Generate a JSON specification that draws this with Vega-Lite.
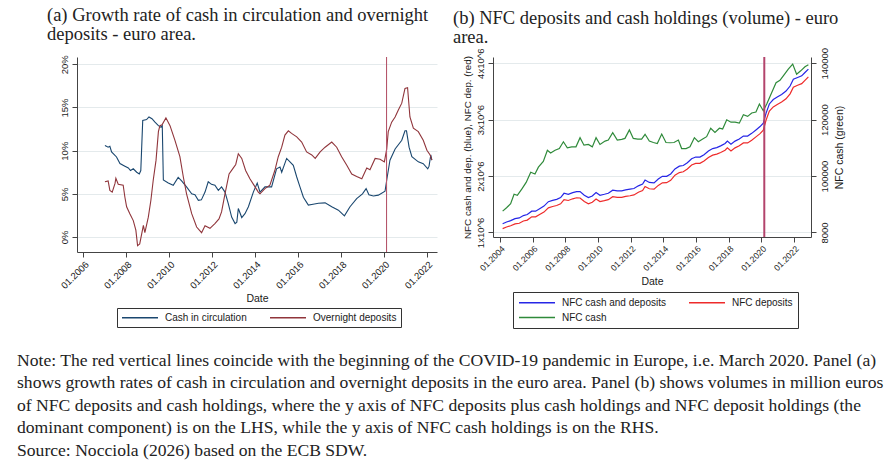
{
  "$schema": "https://vega.github.io/schema/vega-lite/v6.json",
  "background": "white",
  "padding": {"left": 17, "top": 6, "right": 5, "bottom": 2},
  "bounds": "flush",
  "resolve": {"scale": {"color": "independent"}, "legend": {"color": "independent"}},
  "config": {
    "font": "Liberation Sans",
    "view": {"stroke": null, "fill": "white"},
    "axis": {
      "labelFont": "Liberation Sans", "labelFontSize": 9.5, "labelColor": "#1a1a1a",
      "titleFont": "Liberation Sans", "titleFontSize": 10.5, "titleFontWeight": "normal", "titleColor": "#1a1a1a",
      "domainColor": "#444", "tickColor": "#444", "gridColor": "#E4EAEC", "tickSize": 5,
      "labelFlush": false, "labelOverlap": false
    },
    "axisBottom": {"labelOverlap": false},
    "axisX": {"labelOverlap": false},
    "legend": {
      "labelFont": "Liberation Sans", "labelFontSize": 10, "labelColor": "#1a1a1a",
      "fillColor": "white", "strokeColor": "#333", "padding": 4,
      "symbolType": "M-1,0H7", "symbolSize": 81, "symbolStrokeWidth": 1.3, "labelOffset": 33, "columnPadding": 20
    }
  },
  "datasets": {
    "a": [
      {"t": 2007.01, "v": 10.6, "s": "Cash in circulation"},
      {"t": 2007.16, "v": 10.4, "s": "Cash in circulation"},
      {"t": 2007.24, "v": 10.5, "s": "Cash in circulation"},
      {"t": 2007.32, "v": 9.85, "s": "Cash in circulation"},
      {"t": 2007.55, "v": 9.27, "s": "Cash in circulation"},
      {"t": 2007.71, "v": 8.5, "s": "Cash in circulation"},
      {"t": 2007.94, "v": 8.2, "s": "Cash in circulation"},
      {"t": 2008.1, "v": 8.0, "s": "Cash in circulation"},
      {"t": 2008.2, "v": 7.7, "s": "Cash in circulation"},
      {"t": 2008.33, "v": 7.9, "s": "Cash in circulation"},
      {"t": 2008.49, "v": 7.5, "s": "Cash in circulation"},
      {"t": 2008.61, "v": 7.3, "s": "Cash in circulation"},
      {"t": 2008.68, "v": 7.7, "s": "Cash in circulation"},
      {"t": 2008.77, "v": 13.5, "s": "Cash in circulation"},
      {"t": 2008.95, "v": 13.6, "s": "Cash in circulation"},
      {"t": 2009.06, "v": 13.9, "s": "Cash in circulation"},
      {"t": 2009.2, "v": 13.7, "s": "Cash in circulation"},
      {"t": 2009.34, "v": 13.3, "s": "Cash in circulation"},
      {"t": 2009.5, "v": 12.9, "s": "Cash in circulation"},
      {"t": 2009.62, "v": 12.7, "s": "Cash in circulation"},
      {"t": 2009.68, "v": 12.9, "s": "Cash in circulation"},
      {"t": 2009.73, "v": 6.6, "s": "Cash in circulation"},
      {"t": 2009.96, "v": 6.25, "s": "Cash in circulation"},
      {"t": 2010.19, "v": 6.0, "s": "Cash in circulation"},
      {"t": 2010.42, "v": 6.9, "s": "Cash in circulation"},
      {"t": 2010.58, "v": 6.5, "s": "Cash in circulation"},
      {"t": 2010.81, "v": 5.8, "s": "Cash in circulation"},
      {"t": 2011.05, "v": 5.0, "s": "Cash in circulation"},
      {"t": 2011.2, "v": 4.9, "s": "Cash in circulation"},
      {"t": 2011.36, "v": 4.25, "s": "Cash in circulation"},
      {"t": 2011.5, "v": 4.3, "s": "Cash in circulation"},
      {"t": 2011.67, "v": 5.2, "s": "Cash in circulation"},
      {"t": 2011.82, "v": 6.4, "s": "Cash in circulation"},
      {"t": 2011.97, "v": 6.1, "s": "Cash in circulation"},
      {"t": 2012.13, "v": 6.0, "s": "Cash in circulation"},
      {"t": 2012.29, "v": 5.4, "s": "Cash in circulation"},
      {"t": 2012.44, "v": 5.8, "s": "Cash in circulation"},
      {"t": 2012.6, "v": 5.2, "s": "Cash in circulation"},
      {"t": 2012.75, "v": 3.9, "s": "Cash in circulation"},
      {"t": 2012.91, "v": 2.3, "s": "Cash in circulation"},
      {"t": 2013.07, "v": 1.55, "s": "Cash in circulation"},
      {"t": 2013.15, "v": 1.7, "s": "Cash in circulation"},
      {"t": 2013.22, "v": 3.3, "s": "Cash in circulation"},
      {"t": 2013.38, "v": 2.25, "s": "Cash in circulation"},
      {"t": 2013.53, "v": 2.7, "s": "Cash in circulation"},
      {"t": 2013.69, "v": 3.5, "s": "Cash in circulation"},
      {"t": 2013.92, "v": 5.2, "s": "Cash in circulation"},
      {"t": 2014.1, "v": 6.25, "s": "Cash in circulation"},
      {"t": 2014.23, "v": 5.2, "s": "Cash in circulation"},
      {"t": 2014.46, "v": 5.8, "s": "Cash in circulation"},
      {"t": 2014.77, "v": 5.8, "s": "Cash in circulation"},
      {"t": 2015.0, "v": 7.9, "s": "Cash in circulation"},
      {"t": 2015.16, "v": 8.1, "s": "Cash in circulation"},
      {"t": 2015.24, "v": 7.5, "s": "Cash in circulation"},
      {"t": 2015.47, "v": 9.1, "s": "Cash in circulation"},
      {"t": 2015.78, "v": 8.3, "s": "Cash in circulation"},
      {"t": 2015.94, "v": 6.95, "s": "Cash in circulation"},
      {"t": 2016.09, "v": 5.8, "s": "Cash in circulation"},
      {"t": 2016.25, "v": 4.6, "s": "Cash in circulation"},
      {"t": 2016.48, "v": 3.7, "s": "Cash in circulation"},
      {"t": 2016.7, "v": 3.8, "s": "Cash in circulation"},
      {"t": 2016.95, "v": 3.9, "s": "Cash in circulation"},
      {"t": 2017.26, "v": 3.95, "s": "Cash in circulation"},
      {"t": 2017.57, "v": 3.5, "s": "Cash in circulation"},
      {"t": 2017.88, "v": 3.1, "s": "Cash in circulation"},
      {"t": 2018.16, "v": 2.45, "s": "Cash in circulation"},
      {"t": 2018.42, "v": 3.5, "s": "Cash in circulation"},
      {"t": 2018.73, "v": 4.45, "s": "Cash in circulation"},
      {"t": 2019.0, "v": 5.0, "s": "Cash in circulation"},
      {"t": 2019.17, "v": 5.6, "s": "Cash in circulation"},
      {"t": 2019.3, "v": 4.9, "s": "Cash in circulation"},
      {"t": 2019.51, "v": 4.75, "s": "Cash in circulation"},
      {"t": 2019.74, "v": 4.85, "s": "Cash in circulation"},
      {"t": 2020.05, "v": 5.3, "s": "Cash in circulation"},
      {"t": 2020.13, "v": 6.6, "s": "Cash in circulation"},
      {"t": 2020.28, "v": 8.9, "s": "Cash in circulation"},
      {"t": 2020.52, "v": 10.2, "s": "Cash in circulation"},
      {"t": 2020.83, "v": 11.2, "s": "Cash in circulation"},
      {"t": 2020.98, "v": 12.3, "s": "Cash in circulation"},
      {"t": 2021.05, "v": 12.3, "s": "Cash in circulation"},
      {"t": 2021.17, "v": 10.4, "s": "Cash in circulation"},
      {"t": 2021.3, "v": 9.3, "s": "Cash in circulation"},
      {"t": 2021.6, "v": 8.7, "s": "Cash in circulation"},
      {"t": 2021.83, "v": 8.5, "s": "Cash in circulation"},
      {"t": 2022.04, "v": 7.9, "s": "Cash in circulation"},
      {"t": 2022.1, "v": 8.2, "s": "Cash in circulation"},
      {"t": 2022.18, "v": 9.5, "s": "Cash in circulation"},
      {"t": 2022.23, "v": 8.9, "s": "Cash in circulation"},
      {"t": 2007.01, "v": 6.4, "s": "Overnight deposits"},
      {"t": 2007.16, "v": 6.5, "s": "Overnight deposits"},
      {"t": 2007.24, "v": 5.4, "s": "Overnight deposits"},
      {"t": 2007.35, "v": 5.2, "s": "Overnight deposits"},
      {"t": 2007.48, "v": 6.2, "s": "Overnight deposits"},
      {"t": 2007.52, "v": 6.8, "s": "Overnight deposits"},
      {"t": 2007.63, "v": 6.1, "s": "Overnight deposits"},
      {"t": 2007.86, "v": 6.0, "s": "Overnight deposits"},
      {"t": 2007.94, "v": 4.6, "s": "Overnight deposits"},
      {"t": 2008.02, "v": 3.5, "s": "Overnight deposits"},
      {"t": 2008.17, "v": 2.7, "s": "Overnight deposits"},
      {"t": 2008.33, "v": 1.9, "s": "Overnight deposits"},
      {"t": 2008.45, "v": 0.8, "s": "Overnight deposits"},
      {"t": 2008.53, "v": -1.0, "s": "Overnight deposits"},
      {"t": 2008.63, "v": -0.8, "s": "Overnight deposits"},
      {"t": 2008.8, "v": 1.35, "s": "Overnight deposits"},
      {"t": 2008.87, "v": 0.5, "s": "Overnight deposits"},
      {"t": 2009.03, "v": 2.3, "s": "Overnight deposits"},
      {"t": 2009.15, "v": 4.25, "s": "Overnight deposits"},
      {"t": 2009.26, "v": 6.6, "s": "Overnight deposits"},
      {"t": 2009.39, "v": 8.9, "s": "Overnight deposits"},
      {"t": 2009.5, "v": 12.2, "s": "Overnight deposits"},
      {"t": 2009.57, "v": 12.9, "s": "Overnight deposits"},
      {"t": 2009.67, "v": 13.0, "s": "Overnight deposits"},
      {"t": 2009.85, "v": 13.8, "s": "Overnight deposits"},
      {"t": 2010.04, "v": 12.9, "s": "Overnight deposits"},
      {"t": 2010.27, "v": 11.2, "s": "Overnight deposits"},
      {"t": 2010.5, "v": 9.3, "s": "Overnight deposits"},
      {"t": 2010.66, "v": 6.95, "s": "Overnight deposits"},
      {"t": 2010.81, "v": 5.0, "s": "Overnight deposits"},
      {"t": 2011.05, "v": 2.7, "s": "Overnight deposits"},
      {"t": 2011.28, "v": 1.15, "s": "Overnight deposits"},
      {"t": 2011.51, "v": 0.5, "s": "Overnight deposits"},
      {"t": 2011.67, "v": 1.3, "s": "Overnight deposits"},
      {"t": 2011.9, "v": 1.0, "s": "Overnight deposits"},
      {"t": 2012.13, "v": 1.55, "s": "Overnight deposits"},
      {"t": 2012.32, "v": 2.1, "s": "Overnight deposits"},
      {"t": 2012.44, "v": 2.9, "s": "Overnight deposits"},
      {"t": 2012.6, "v": 5.0, "s": "Overnight deposits"},
      {"t": 2012.79, "v": 7.3, "s": "Overnight deposits"},
      {"t": 2012.99, "v": 8.0, "s": "Overnight deposits"},
      {"t": 2013.1, "v": 8.4, "s": "Overnight deposits"},
      {"t": 2013.22, "v": 9.65, "s": "Overnight deposits"},
      {"t": 2013.38, "v": 9.1, "s": "Overnight deposits"},
      {"t": 2013.56, "v": 7.7, "s": "Overnight deposits"},
      {"t": 2013.76, "v": 6.75, "s": "Overnight deposits"},
      {"t": 2014.0, "v": 5.8, "s": "Overnight deposits"},
      {"t": 2014.15, "v": 5.2, "s": "Overnight deposits"},
      {"t": 2014.23, "v": 5.0, "s": "Overnight deposits"},
      {"t": 2014.46, "v": 5.6, "s": "Overnight deposits"},
      {"t": 2014.69, "v": 6.0, "s": "Overnight deposits"},
      {"t": 2014.92, "v": 7.7, "s": "Overnight deposits"},
      {"t": 2015.08, "v": 9.3, "s": "Overnight deposits"},
      {"t": 2015.24, "v": 10.4, "s": "Overnight deposits"},
      {"t": 2015.39, "v": 11.8, "s": "Overnight deposits"},
      {"t": 2015.55, "v": 12.3, "s": "Overnight deposits"},
      {"t": 2015.7, "v": 12.0, "s": "Overnight deposits"},
      {"t": 2015.94, "v": 11.6, "s": "Overnight deposits"},
      {"t": 2016.17, "v": 11.0, "s": "Overnight deposits"},
      {"t": 2016.4, "v": 9.85, "s": "Overnight deposits"},
      {"t": 2016.64, "v": 9.5, "s": "Overnight deposits"},
      {"t": 2016.8, "v": 9.1, "s": "Overnight deposits"},
      {"t": 2017.03, "v": 9.85, "s": "Overnight deposits"},
      {"t": 2017.26, "v": 10.4, "s": "Overnight deposits"},
      {"t": 2017.57, "v": 11.0, "s": "Overnight deposits"},
      {"t": 2017.8, "v": 10.4, "s": "Overnight deposits"},
      {"t": 2018.03, "v": 9.3, "s": "Overnight deposits"},
      {"t": 2018.27, "v": 8.3, "s": "Overnight deposits"},
      {"t": 2018.5, "v": 7.3, "s": "Overnight deposits"},
      {"t": 2018.73, "v": 7.0, "s": "Overnight deposits"},
      {"t": 2018.97, "v": 6.75, "s": "Overnight deposits"},
      {"t": 2019.2, "v": 8.0, "s": "Overnight deposits"},
      {"t": 2019.35, "v": 7.8, "s": "Overnight deposits"},
      {"t": 2019.59, "v": 9.1, "s": "Overnight deposits"},
      {"t": 2019.82, "v": 9.0, "s": "Overnight deposits"},
      {"t": 2020.02, "v": 8.7, "s": "Overnight deposits"},
      {"t": 2020.13, "v": 10.2, "s": "Overnight deposits"},
      {"t": 2020.2, "v": 12.2, "s": "Overnight deposits"},
      {"t": 2020.36, "v": 13.3, "s": "Overnight deposits"},
      {"t": 2020.52, "v": 13.9, "s": "Overnight deposits"},
      {"t": 2020.67, "v": 14.7, "s": "Overnight deposits"},
      {"t": 2020.83, "v": 15.5, "s": "Overnight deposits"},
      {"t": 2020.98, "v": 17.2, "s": "Overnight deposits"},
      {"t": 2021.1, "v": 17.3, "s": "Overnight deposits"},
      {"t": 2021.21, "v": 13.9, "s": "Overnight deposits"},
      {"t": 2021.37, "v": 12.6, "s": "Overnight deposits"},
      {"t": 2021.6, "v": 12.2, "s": "Overnight deposits"},
      {"t": 2021.83, "v": 11.2, "s": "Overnight deposits"},
      {"t": 2022.0, "v": 10.05, "s": "Overnight deposits"},
      {"t": 2022.15, "v": 9.5, "s": "Overnight deposits"},
      {"t": 2022.23, "v": 8.9, "s": "Overnight deposits"}
    ],
    "covid_a": [{"t": 2020.12}],
    "covid_b": [{"t": 2020.18}],
    "b_lhs": [
      {"t": 2004.16, "v": 1156000, "s": "NFC cash and deposits"},
      {"t": 2004.4, "v": 1186000, "s": "NFC cash and deposits"},
      {"t": 2004.65, "v": 1210000, "s": "NFC cash and deposits"},
      {"t": 2004.92, "v": 1246000, "s": "NFC cash and deposits"},
      {"t": 2005.18, "v": 1258000, "s": "NFC cash and deposits"},
      {"t": 2005.43, "v": 1300000, "s": "NFC cash and deposits"},
      {"t": 2005.67, "v": 1318000, "s": "NFC cash and deposits"},
      {"t": 2005.94, "v": 1378000, "s": "NFC cash and deposits"},
      {"t": 2006.18, "v": 1378000, "s": "NFC cash and deposits"},
      {"t": 2006.45, "v": 1426000, "s": "NFC cash and deposits"},
      {"t": 2006.69, "v": 1468000, "s": "NFC cash and deposits"},
      {"t": 2006.96, "v": 1546000, "s": "NFC cash and deposits"},
      {"t": 2007.22, "v": 1570000, "s": "NFC cash and deposits"},
      {"t": 2007.47, "v": 1588000, "s": "NFC cash and deposits"},
      {"t": 2007.71, "v": 1618000, "s": "NFC cash and deposits"},
      {"t": 2007.92, "v": 1695000, "s": "NFC cash and deposits"},
      {"t": 2008.18, "v": 1677000, "s": "NFC cash and deposits"},
      {"t": 2008.45, "v": 1707000, "s": "NFC cash and deposits"},
      {"t": 2008.69, "v": 1725000, "s": "NFC cash and deposits"},
      {"t": 2008.9, "v": 1725000, "s": "NFC cash and deposits"},
      {"t": 2009.16, "v": 1660000, "s": "NFC cash and deposits"},
      {"t": 2009.41, "v": 1618000, "s": "NFC cash and deposits"},
      {"t": 2009.65, "v": 1647000, "s": "NFC cash and deposits"},
      {"t": 2009.88, "v": 1707000, "s": "NFC cash and deposits"},
      {"t": 2010.12, "v": 1660000, "s": "NFC cash and deposits"},
      {"t": 2010.39, "v": 1677000, "s": "NFC cash and deposits"},
      {"t": 2010.63, "v": 1695000, "s": "NFC cash and deposits"},
      {"t": 2010.9, "v": 1749000, "s": "NFC cash and deposits"},
      {"t": 2011.18, "v": 1737000, "s": "NFC cash and deposits"},
      {"t": 2011.45, "v": 1737000, "s": "NFC cash and deposits"},
      {"t": 2011.69, "v": 1755000, "s": "NFC cash and deposits"},
      {"t": 2011.96, "v": 1767000, "s": "NFC cash and deposits"},
      {"t": 2012.2, "v": 1779000, "s": "NFC cash and deposits"},
      {"t": 2012.47, "v": 1827000, "s": "NFC cash and deposits"},
      {"t": 2012.73, "v": 1857000, "s": "NFC cash and deposits"},
      {"t": 2012.88, "v": 1929000, "s": "NFC cash and deposits"},
      {"t": 2013.14, "v": 1887000, "s": "NFC cash and deposits"},
      {"t": 2013.43, "v": 1880000, "s": "NFC cash and deposits"},
      {"t": 2013.69, "v": 1947000, "s": "NFC cash and deposits"},
      {"t": 2013.94, "v": 1995000, "s": "NFC cash and deposits"},
      {"t": 2014.2, "v": 1995000, "s": "NFC cash and deposits"},
      {"t": 2014.45, "v": 2037000, "s": "NFC cash and deposits"},
      {"t": 2014.71, "v": 2127000, "s": "NFC cash and deposits"},
      {"t": 2014.98, "v": 2175000, "s": "NFC cash and deposits"},
      {"t": 2015.22, "v": 2187000, "s": "NFC cash and deposits"},
      {"t": 2015.47, "v": 2235000, "s": "NFC cash and deposits"},
      {"t": 2015.73, "v": 2307000, "s": "NFC cash and deposits"},
      {"t": 2015.98, "v": 2337000, "s": "NFC cash and deposits"},
      {"t": 2016.24, "v": 2337000, "s": "NFC cash and deposits"},
      {"t": 2016.49, "v": 2379000, "s": "NFC cash and deposits"},
      {"t": 2016.76, "v": 2445000, "s": "NFC cash and deposits"},
      {"t": 2017.02, "v": 2487000, "s": "NFC cash and deposits"},
      {"t": 2017.27, "v": 2505000, "s": "NFC cash and deposits"},
      {"t": 2017.51, "v": 2535000, "s": "NFC cash and deposits"},
      {"t": 2017.78, "v": 2577000, "s": "NFC cash and deposits"},
      {"t": 2017.92, "v": 2619000, "s": "NFC cash and deposits"},
      {"t": 2018.14, "v": 2565000, "s": "NFC cash and deposits"},
      {"t": 2018.39, "v": 2619000, "s": "NFC cash and deposits"},
      {"t": 2018.65, "v": 2655000, "s": "NFC cash and deposits"},
      {"t": 2018.9, "v": 2709000, "s": "NFC cash and deposits"},
      {"t": 2019.16, "v": 2709000, "s": "NFC cash and deposits"},
      {"t": 2019.41, "v": 2757000, "s": "NFC cash and deposits"},
      {"t": 2019.67, "v": 2817000, "s": "NFC cash and deposits"},
      {"t": 2019.92, "v": 2877000, "s": "NFC cash and deposits"},
      {"t": 2020.12, "v": 2937000, "s": "NFC cash and deposits"},
      {"t": 2020.29, "v": 3116000, "s": "NFC cash and deposits"},
      {"t": 2020.49, "v": 3278000, "s": "NFC cash and deposits"},
      {"t": 2020.73, "v": 3356000, "s": "NFC cash and deposits"},
      {"t": 2021.0, "v": 3404000, "s": "NFC cash and deposits"},
      {"t": 2021.24, "v": 3446000, "s": "NFC cash and deposits"},
      {"t": 2021.51, "v": 3506000, "s": "NFC cash and deposits"},
      {"t": 2021.76, "v": 3596000, "s": "NFC cash and deposits"},
      {"t": 2021.96, "v": 3716000, "s": "NFC cash and deposits"},
      {"t": 2022.22, "v": 3746000, "s": "NFC cash and deposits"},
      {"t": 2022.47, "v": 3776000, "s": "NFC cash and deposits"},
      {"t": 2022.67, "v": 3836000, "s": "NFC cash and deposits"},
      {"t": 2022.88, "v": 3896000, "s": "NFC cash and deposits"},
      {"t": 2004.16, "v": 1068000, "s": "NFC deposits"},
      {"t": 2004.4, "v": 1097000, "s": "NFC deposits"},
      {"t": 2004.65, "v": 1120000, "s": "NFC deposits"},
      {"t": 2004.92, "v": 1152000, "s": "NFC deposits"},
      {"t": 2005.18, "v": 1164000, "s": "NFC deposits"},
      {"t": 2005.43, "v": 1204000, "s": "NFC deposits"},
      {"t": 2005.67, "v": 1220000, "s": "NFC deposits"},
      {"t": 2005.94, "v": 1277000, "s": "NFC deposits"},
      {"t": 2006.18, "v": 1277000, "s": "NFC deposits"},
      {"t": 2006.45, "v": 1322000, "s": "NFC deposits"},
      {"t": 2006.69, "v": 1362000, "s": "NFC deposits"},
      {"t": 2006.96, "v": 1437000, "s": "NFC deposits"},
      {"t": 2007.22, "v": 1461000, "s": "NFC deposits"},
      {"t": 2007.47, "v": 1479000, "s": "NFC deposits"},
      {"t": 2007.71, "v": 1508000, "s": "NFC deposits"},
      {"t": 2007.92, "v": 1583000, "s": "NFC deposits"},
      {"t": 2008.18, "v": 1567000, "s": "NFC deposits"},
      {"t": 2008.45, "v": 1597000, "s": "NFC deposits"},
      {"t": 2008.69, "v": 1615000, "s": "NFC deposits"},
      {"t": 2008.9, "v": 1611000, "s": "NFC deposits"},
      {"t": 2009.16, "v": 1549000, "s": "NFC deposits"},
      {"t": 2009.41, "v": 1507000, "s": "NFC deposits"},
      {"t": 2009.65, "v": 1537000, "s": "NFC deposits"},
      {"t": 2009.88, "v": 1593000, "s": "NFC deposits"},
      {"t": 2010.12, "v": 1549000, "s": "NFC deposits"},
      {"t": 2010.39, "v": 1565000, "s": "NFC deposits"},
      {"t": 2010.63, "v": 1582000, "s": "NFC deposits"},
      {"t": 2010.9, "v": 1634000, "s": "NFC deposits"},
      {"t": 2011.18, "v": 1624000, "s": "NFC deposits"},
      {"t": 2011.45, "v": 1624000, "s": "NFC deposits"},
      {"t": 2011.69, "v": 1641000, "s": "NFC deposits"},
      {"t": 2011.96, "v": 1651000, "s": "NFC deposits"},
      {"t": 2012.2, "v": 1666000, "s": "NFC deposits"},
      {"t": 2012.47, "v": 1714000, "s": "NFC deposits"},
      {"t": 2012.73, "v": 1744000, "s": "NFC deposits"},
      {"t": 2012.88, "v": 1814000, "s": "NFC deposits"},
      {"t": 2013.14, "v": 1775000, "s": "NFC deposits"},
      {"t": 2013.43, "v": 1768000, "s": "NFC deposits"},
      {"t": 2013.69, "v": 1835000, "s": "NFC deposits"},
      {"t": 2013.94, "v": 1880000, "s": "NFC deposits"},
      {"t": 2014.2, "v": 1883000, "s": "NFC deposits"},
      {"t": 2014.45, "v": 1925000, "s": "NFC deposits"},
      {"t": 2014.71, "v": 2015000, "s": "NFC deposits"},
      {"t": 2014.98, "v": 2062000, "s": "NFC deposits"},
      {"t": 2015.22, "v": 2077000, "s": "NFC deposits"},
      {"t": 2015.47, "v": 2125000, "s": "NFC deposits"},
      {"t": 2015.73, "v": 2196000, "s": "NFC deposits"},
      {"t": 2015.98, "v": 2224000, "s": "NFC deposits"},
      {"t": 2016.24, "v": 2225000, "s": "NFC deposits"},
      {"t": 2016.49, "v": 2266000, "s": "NFC deposits"},
      {"t": 2016.76, "v": 2330000, "s": "NFC deposits"},
      {"t": 2017.02, "v": 2370000, "s": "NFC deposits"},
      {"t": 2017.27, "v": 2389000, "s": "NFC deposits"},
      {"t": 2017.51, "v": 2418000, "s": "NFC deposits"},
      {"t": 2017.78, "v": 2458000, "s": "NFC deposits"},
      {"t": 2017.92, "v": 2499000, "s": "NFC deposits"},
      {"t": 2018.14, "v": 2446000, "s": "NFC deposits"},
      {"t": 2018.39, "v": 2500000, "s": "NFC deposits"},
      {"t": 2018.65, "v": 2536000, "s": "NFC deposits"},
      {"t": 2018.9, "v": 2587000, "s": "NFC deposits"},
      {"t": 2019.16, "v": 2588000, "s": "NFC deposits"},
      {"t": 2019.41, "v": 2635000, "s": "NFC deposits"},
      {"t": 2019.67, "v": 2694000, "s": "NFC deposits"},
      {"t": 2019.92, "v": 2752000, "s": "NFC deposits"},
      {"t": 2020.12, "v": 2814000, "s": "NFC deposits"},
      {"t": 2020.29, "v": 2991000, "s": "NFC deposits"},
      {"t": 2020.49, "v": 3150000, "s": "NFC deposits"},
      {"t": 2020.73, "v": 3225000, "s": "NFC deposits"},
      {"t": 2021.0, "v": 3271000, "s": "NFC deposits"},
      {"t": 2021.24, "v": 3311000, "s": "NFC deposits"},
      {"t": 2021.51, "v": 3369000, "s": "NFC deposits"},
      {"t": 2021.76, "v": 3457000, "s": "NFC deposits"},
      {"t": 2021.96, "v": 3576000, "s": "NFC deposits"},
      {"t": 2022.22, "v": 3610000, "s": "NFC deposits"},
      {"t": 2022.47, "v": 3638000, "s": "NFC deposits"},
      {"t": 2022.67, "v": 3697000, "s": "NFC deposits"},
      {"t": 2022.88, "v": 3757000, "s": "NFC deposits"}
    ],
    "b_cash": [
      {"t": 2004.16, "v": 87560, "s": "NFC cash"},
      {"t": 2004.4, "v": 88760, "s": "NFC cash"},
      {"t": 2004.65, "v": 90200, "s": "NFC cash"},
      {"t": 2004.86, "v": 93560, "s": "NFC cash"},
      {"t": 2005.06, "v": 93200, "s": "NFC cash"},
      {"t": 2005.33, "v": 95350, "s": "NFC cash"},
      {"t": 2005.6, "v": 97750, "s": "NFC cash"},
      {"t": 2005.88, "v": 101350, "s": "NFC cash"},
      {"t": 2006.14, "v": 100750, "s": "NFC cash"},
      {"t": 2006.35, "v": 103150, "s": "NFC cash"},
      {"t": 2006.65, "v": 105200, "s": "NFC cash"},
      {"t": 2006.9, "v": 109150, "s": "NFC cash"},
      {"t": 2007.1, "v": 108200, "s": "NFC cash"},
      {"t": 2007.37, "v": 109150, "s": "NFC cash"},
      {"t": 2007.63, "v": 109750, "s": "NFC cash"},
      {"t": 2007.88, "v": 112150, "s": "NFC cash"},
      {"t": 2008.12, "v": 110000, "s": "NFC cash"},
      {"t": 2008.39, "v": 110350, "s": "NFC cash"},
      {"t": 2008.65, "v": 110350, "s": "NFC cash"},
      {"t": 2008.9, "v": 113600, "s": "NFC cash"},
      {"t": 2009.14, "v": 110950, "s": "NFC cash"},
      {"t": 2009.41, "v": 111200, "s": "NFC cash"},
      {"t": 2009.65, "v": 110350, "s": "NFC cash"},
      {"t": 2009.88, "v": 113600, "s": "NFC cash"},
      {"t": 2010.12, "v": 111200, "s": "NFC cash"},
      {"t": 2010.43, "v": 112400, "s": "NFC cash"},
      {"t": 2010.63, "v": 112750, "s": "NFC cash"},
      {"t": 2010.9, "v": 115400, "s": "NFC cash"},
      {"t": 2011.18, "v": 112750, "s": "NFC cash"},
      {"t": 2011.45, "v": 113000, "s": "NFC cash"},
      {"t": 2011.65, "v": 113350, "s": "NFC cash"},
      {"t": 2011.92, "v": 116350, "s": "NFC cash"},
      {"t": 2012.16, "v": 113350, "s": "NFC cash"},
      {"t": 2012.43, "v": 113100, "s": "NFC cash"},
      {"t": 2012.67, "v": 113100, "s": "NFC cash"},
      {"t": 2012.88, "v": 114800, "s": "NFC cash"},
      {"t": 2013.14, "v": 112400, "s": "NFC cash"},
      {"t": 2013.39, "v": 111900, "s": "NFC cash"},
      {"t": 2013.63, "v": 111550, "s": "NFC cash"},
      {"t": 2013.9, "v": 114900, "s": "NFC cash"},
      {"t": 2014.16, "v": 111900, "s": "NFC cash"},
      {"t": 2014.41, "v": 111800, "s": "NFC cash"},
      {"t": 2014.65, "v": 111900, "s": "NFC cash"},
      {"t": 2014.92, "v": 112750, "s": "NFC cash"},
      {"t": 2015.12, "v": 109750, "s": "NFC cash"},
      {"t": 2015.39, "v": 109750, "s": "NFC cash"},
      {"t": 2015.63, "v": 110350, "s": "NFC cash"},
      {"t": 2015.9, "v": 113600, "s": "NFC cash"},
      {"t": 2016.14, "v": 112150, "s": "NFC cash"},
      {"t": 2016.41, "v": 113100, "s": "NFC cash"},
      {"t": 2016.65, "v": 113950, "s": "NFC cash"},
      {"t": 2016.9, "v": 116950, "s": "NFC cash"},
      {"t": 2017.16, "v": 115500, "s": "NFC cash"},
      {"t": 2017.43, "v": 116950, "s": "NFC cash"},
      {"t": 2017.63, "v": 116700, "s": "NFC cash"},
      {"t": 2017.88, "v": 119950, "s": "NFC cash"},
      {"t": 2018.14, "v": 119100, "s": "NFC cash"},
      {"t": 2018.39, "v": 119100, "s": "NFC cash"},
      {"t": 2018.65, "v": 118750, "s": "NFC cash"},
      {"t": 2018.9, "v": 121750, "s": "NFC cash"},
      {"t": 2019.16, "v": 121150, "s": "NFC cash"},
      {"t": 2019.41, "v": 122350, "s": "NFC cash"},
      {"t": 2019.67, "v": 122700, "s": "NFC cash"},
      {"t": 2019.88, "v": 125550, "s": "NFC cash"},
      {"t": 2020.12, "v": 123150, "s": "NFC cash"},
      {"t": 2020.33, "v": 125550, "s": "NFC cash"},
      {"t": 2020.63, "v": 129500, "s": "NFC cash"},
      {"t": 2020.9, "v": 133100, "s": "NFC cash"},
      {"t": 2021.14, "v": 133950, "s": "NFC cash"},
      {"t": 2021.39, "v": 135900, "s": "NFC cash"},
      {"t": 2021.65, "v": 137900, "s": "NFC cash"},
      {"t": 2021.92, "v": 139700, "s": "NFC cash"},
      {"t": 2022.16, "v": 136100, "s": "NFC cash"},
      {"t": 2022.41, "v": 137300, "s": "NFC cash"},
      {"t": 2022.67, "v": 138750, "s": "NFC cash"},
      {"t": 2022.88, "v": 139450, "s": "NFC cash"}
    ]
  },
  "title": {
    "text": [
      "Note: The red vertical lines coincide with the beginning of the COVID-19 pandemic in Europe, i.e. March 2020. Panel (a)",
      "shows growth rates of cash in circulation and overnight deposits in the euro area. Panel (b) shows volumes in million euros",
      "of NFC deposits and cash holdings, where the y axis of NFC deposits plus cash holdings and NFC deposit holdings (the",
      "dominant component) is on the LHS, while the y axis of NFC cash holdings is on the RHS.",
      "Source: Nocciola (2026) based on the ECB SDW."
    ],
    "orient": "bottom", "anchor": "start", "frame": "bounds", "dx": -30,
    "font": "Liberation Serif", "fontSize": 17.6, "fontWeight": "normal", "color": "#222",
    "lineHeight": 22.5, "offset": 23
  },
  "spacing": 56,
  "hconcat": [
    {
      "width": 360, "height": 195,
      "title": {
        "text": ["(a) Growth rate of cash in circulation and overnight", "deposits - euro area."],
        "anchor": "start", "frame": "group", "dx": -30,
        "font": "Liberation Serif", "fontSize": 18.5, "fontWeight": "normal", "color": "#222",
        "lineHeight": 19, "offset": 11
      },
      "layer": [
        {
          "data": {"name": "a"},
          "mark": {"type": "line", "strokeWidth": 1.1},
          "encoding": {
            "x": {"field": "t", "type": "quantitative",
              "scale": {"domain": [2005.71, 2022.47], "nice": false, "zero": false},
              "axis": {"values": [2006, 2008, 2010, 2012, 2014, 2016, 2018, 2020, 2022],
                "labelExpr": "'01.' + datum.value", "labelAngle": -45, "grid": false, "labelOverlap": false,
                "title": "Date", "titlePadding": 4, "labelPadding": 2}},
            "y": {"field": "v", "type": "quantitative",
              "scale": {"domain": [-1.74, 20.85], "nice": false, "zero": false},
              "axis": {"values": [0, 5, 10, 15, 20], "labelExpr": "datum.value + '%'",
                "labelAngle": -90, "labelAlign": "center", "labelBaseline": "bottom",
                "title": null, "grid": true, "labelPadding": 3}},
            "color": {"field": "s", "type": "nominal",
              "scale": {"domain": ["Cash in circulation", "Overnight deposits"], "range": ["#1A476F", "#90353B"]},
              "legend": {"title": null, "orient": "none", "legendX": 40, "legendY": 251,
                "direction": "horizontal", "padding": 4}}
          }
        },
        {
          "data": {"name": "covid_a"},
          "mark": {"type": "rule", "color": "#B5566B", "strokeWidth": 1.1},
          "encoding": {"x": {"field": "t", "type": "quantitative"}}
        }
      ]
    },
    {
      "width": 318, "height": 180,
      "title": {
        "text": ["(b) NFC deposits and cash holdings (volume) - euro", "area."],
        "anchor": "start", "frame": "group", "dx": -40,
        "font": "Liberation Serif", "fontSize": 18.5, "fontWeight": "normal", "color": "#222",
        "lineHeight": 19, "offset": 1
      },
      "layer": [
        {
          "data": {"name": "b_lhs"},
          "mark": {"type": "line", "strokeWidth": 1.2},
          "encoding": {
            "x": {"field": "t", "type": "quantitative",
              "scale": {"domain": [2003.57, 2023.04], "nice": false, "zero": false},
              "axis": {"values": [2004, 2006, 2008, 2010, 2012, 2014, 2016, 2018, 2020, 2022],
                "labelExpr": "'01.' + datum.value", "labelAngle": -45, "grid": false,
                "labelOverlap": false, "labelFontSize": 8.6,
                "title": "Date", "titlePadding": 4, "labelPadding": 2}},
            "y": {"field": "v", "type": "quantitative",
              "scale": {"domain": [920000, 4110000], "nice": false, "zero": false},
              "axis": {"values": [1000000, 2000000, 3000000, 4000000],
                "labelExpr": "(datum.value / 1000000) + 'x10^6'",
                "labelAngle": -90, "labelAlign": "center", "labelBaseline": "bottom",
                "title": "NFC cash and dep. (blue), NFC dep. (red)", "titleFontSize": 9.8,
                "titlePadding": 3, "grid": true, "labelPadding": 3}},
            "color": {"field": "s", "type": "nominal",
              "scale": {"domain": ["NFC cash and deposits", "NFC deposits", "NFC cash"], "range": ["#2626E6", "#EE2B2B", "#2F8A3A"]},
              "legend": {"title": null, "orient": "none", "legendX": 20, "legendY": 235,
                "direction": "horizontal", "columns": 2, "padding": 5, "rowPadding": 4, "columnPadding": 20}}
          }
        },
        {
          "data": {"name": "b_cash"},
          "mark": {"type": "line", "strokeWidth": 1.2},
          "encoding": {
            "x": {"field": "t", "type": "quantitative",
              "axis": {"values": [2004, 2006, 2008, 2010, 2012, 2014, 2016, 2018, 2020, 2022],
                "labelExpr": "'01.' + datum.value", "labelAngle": -45, "grid": false,
                "labelOverlap": false, "labelFontSize": 8.6,
                "title": "Date", "titlePadding": 4, "labelPadding": 2}},
            "y": {"field": "v", "type": "quantitative",
              "scale": {"domain": [78400, 142200], "nice": false, "zero": false},
              "axis": {"orient": "right", "values": [80000, 100000, 120000, 140000],
                "labelExpr": "datum.value == 80000 ? '8000' : format(datum.value, 'd')",
                "labelAngle": -90, "labelAlign": "center", "labelBaseline": "top",
                "title": "NFC cash (green)", "titleAngle": -90, "titleFontSize": 10.5,
                "titlePadding": 16, "grid": false, "labelPadding": 3}},
            "color": {"field": "s", "type": "nominal"}
          }
        },
        {
          "data": {"name": "covid_b"},
          "mark": {"type": "rule", "color": "#B3446C", "strokeWidth": 2},
          "encoding": {"x": {"field": "t", "type": "quantitative",
              "axis": {"values": [2004, 2006, 2008, 2010, 2012, 2014, 2016, 2018, 2020, 2022],
                "labelExpr": "'01.' + datum.value", "labelAngle": -45, "grid": false,
                "labelOverlap": false, "labelFontSize": 8.6,
                "title": "Date", "titlePadding": 4, "labelPadding": 2}}}
        }
      ],
      "resolve": {"scale": {"y": "independent"}}
    }
  ]
}
